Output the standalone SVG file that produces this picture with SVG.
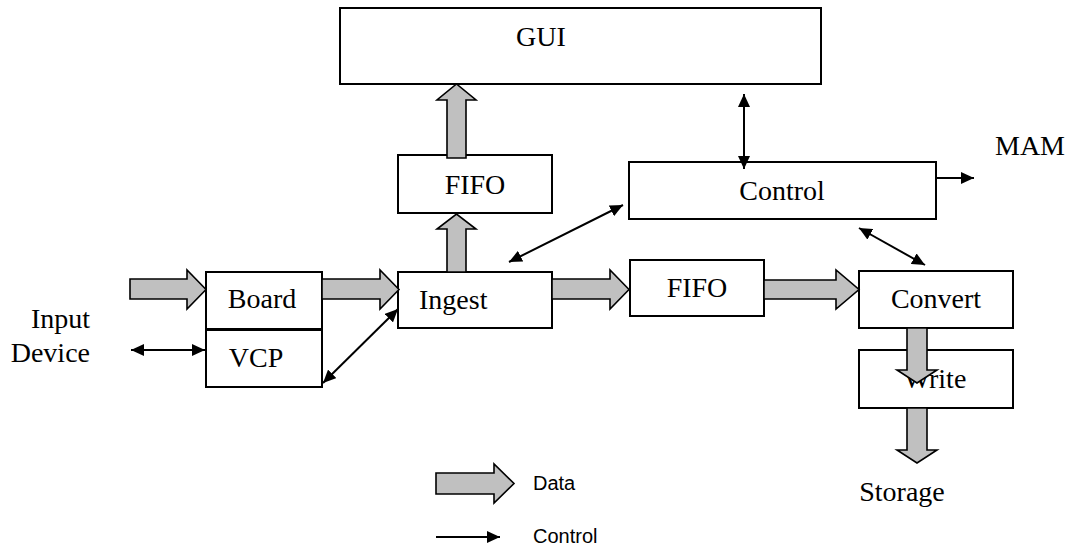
<svg xmlns="http://www.w3.org/2000/svg" width="1076" height="552" viewBox="0 0 1076 552">
  <style>
    .box { fill: #ffffff; stroke: #000000; stroke-width: 2; }
    .lbl { font-family: "Liberation Serif", "Times New Roman", serif; font-size: 28px; fill: #000000; }
    .mid { text-anchor: middle; }
    .end { text-anchor: end; }
    .leg { font-family: "Liberation Sans", Arial, sans-serif; font-size: 20px; fill: #000000; }
    .data { fill: #c0c0c0; stroke: #000000; stroke-width: 1.6; stroke-linejoin: miter; }
    .ctl { fill: none; stroke: #000000; stroke-width: 2; }
    .two { marker-start: url(#tip); marker-end: url(#tip); }
    .one { marker-end: url(#tip); }
  </style>
  <defs>
    <marker id="tip" viewBox="0 0 13 12" refX="13" refY="6" markerWidth="13" markerHeight="12" markerUnits="userSpaceOnUse" orient="auto-start-reverse">
      <path d="M0,0 L13,6 L0,12 z" fill="#000000"/>
    </marker>
  </defs>
  <rect width="1076" height="552" fill="#ffffff"/>

  <!-- blocks -->
  <g id="gui">
    <rect class="box" x="340" y="8" width="481" height="76"/>
    <text class="lbl mid" x="541" y="46">GUI</text>
  </g>
  <g id="fifo-gui">
    <rect class="box" x="398" y="155" width="154" height="58"/>
    <text class="lbl mid" x="475" y="194">FIFO</text>
  </g>
  <g id="control">
    <rect class="box" x="629" y="162" width="307" height="57"/>
    <text class="lbl mid" x="782" y="200">Control</text>
  </g>
  <g id="mam">
    <text class="lbl" x="995" y="155">MAM</text>
  </g>
  <g id="board">
    <rect class="box" x="206" y="272" width="116" height="57"/>
    <text class="lbl mid" x="262" y="308">Board</text>
  </g>
  <g id="vcp">
    <rect class="box" x="206" y="330" width="116" height="57"/>
    <text class="lbl mid" x="256" y="367">VCP</text>
  </g>
  <g id="ingest">
    <rect class="box" x="398" y="272" width="154" height="56"/>
    <text class="lbl" x="419" y="309">Ingest</text>
  </g>
  <g id="fifo-convert">
    <rect class="box" x="630" y="260" width="134" height="56"/>
    <text class="lbl mid" x="697" y="297">FIFO</text>
  </g>
  <g id="convert">
    <rect class="box" x="859" y="271" width="154" height="57"/>
    <text class="lbl mid" x="936" y="308">Convert</text>
  </g>
  <g id="write">
    <rect class="box" x="859" y="350" width="154" height="58"/>
    <text class="lbl mid" x="935" y="388">Write</text>
  </g>
  <g id="input-device">
    <text class="lbl end" x="90" y="328">Input</text>
    <text class="lbl end" x="90" y="362">Device</text>
  </g>
  <g id="storage">
    <text class="lbl mid" x="902" y="501">Storage</text>
  </g>

  <!-- connectors: grey block arrows carry data, thin arrows carry control -->
  <g id="connectors">
    <polygon class="data" points="130,279 187,279 187,270 206,289.5 187,309 187,299 130,299"/>
    <polygon class="data" points="322,279 380,279 380,270 399,289.5 380,309 380,299 322,299"/>
    <polygon class="data" points="552,279 610,279 610,270 629,289.5 610,309 610,299 552,299"/>
    <polygon class="data" points="764,280 836,280 836,270 859,289.5 836,309 836,299 764,299"/>
    <polygon class="data" points="447,272 447,229 437,229 456.5,214 476,229 466,229 466,272"/>
    <polygon class="data" points="447,158 447,100 437,100 456.5,84 476,100 466,100 466,158"/>
    <polygon class="data" points="907,328 907,370 897,370 917,383 937,370 927,370 927,328"/>
    <polygon class="data" points="907,408 907,450 897,450 917,463 937,450 927,450 927,408"/>

    <line class="ctl two" x1="744" y1="94" x2="744" y2="169"/>
    <line class="ctl one" x1="937" y1="178" x2="974" y2="178"/>
    <line class="ctl two" x1="509" y1="262" x2="623" y2="205"/>
    <line class="ctl two" x1="859" y1="228" x2="925" y2="265"/>
    <line class="ctl two" x1="131" y1="350" x2="205" y2="350"/>
    <line class="ctl two" x1="323" y1="383" x2="398" y2="309"/>
  </g>

  <!-- key -->
  <g id="legend">
    <polygon class="data" points="436,473 494,473 494,464 514,483.5 494,503 494,494 436,494"/>
    <text class="leg" x="533" y="490">Data</text>
    <line class="ctl one" x1="436" y1="537" x2="500" y2="537"/>
    <text class="leg" x="533" y="543">Control</text>
  </g>
</svg>
